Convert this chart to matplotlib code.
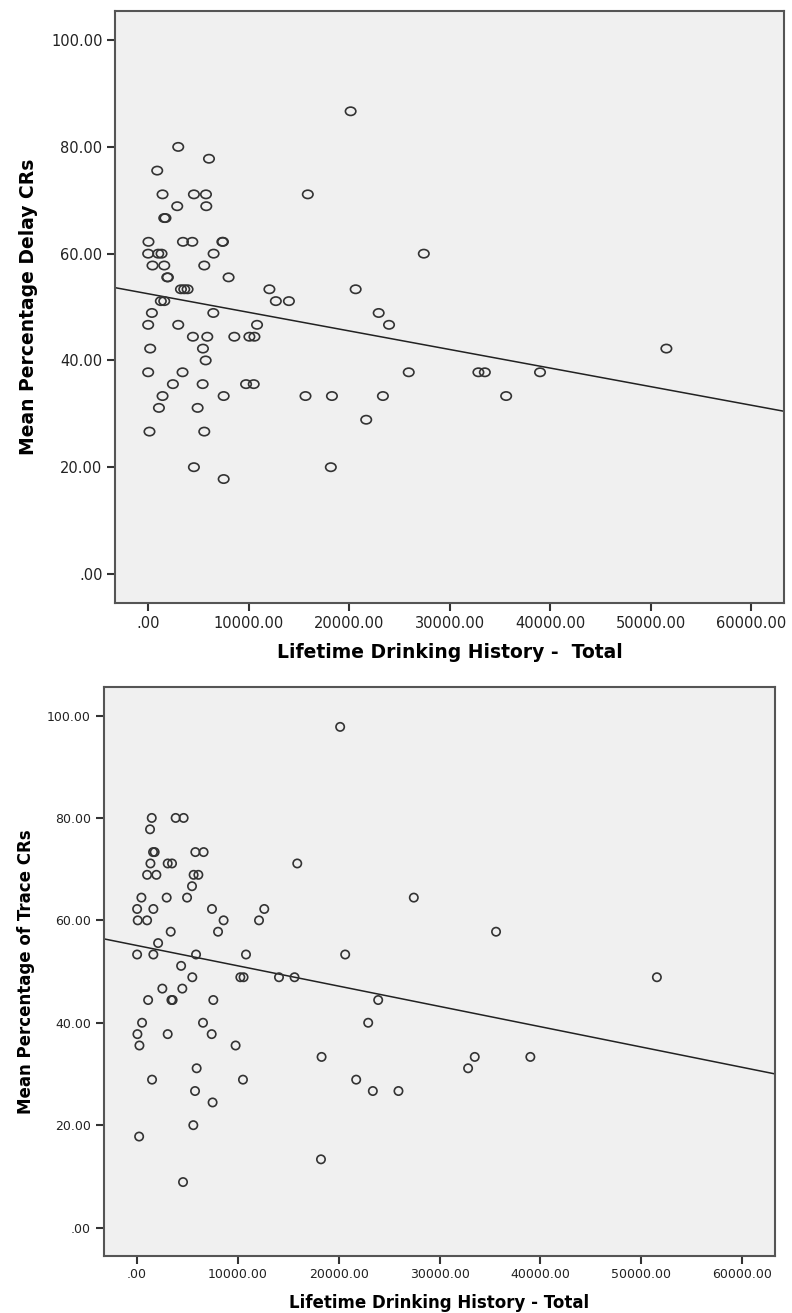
import matplotlib.pyplot as plt
import numpy as np
from matplotlib.markers import MarkerStyle
from matplotlib.transforms import Affine2D

# Delay conditioning: lifetime drinking total vs mean % CRs
delay_history = [2990, 6050, 900, 1430, 4550, 5750, 2890, 5780, 1600, 1720,
                 30, 3460, 4390, 7380, 7440, 0, 1000, 1330, 6510, 430,
                 1600, 5580, 1900, 1960, 8000, 3260, 3590, 3920, 12060, 1260,
                 1600, 12700, 14000, 370, 6480, 0, 2990, 10830, 4450, 5880,
                 8570, 10070, 10570, 200, 5450, 5720, 0, 3420, 2460, 5420,
                 9740, 10500, 1430, 7510, 1070, 4920, 130, 5580, 4550, 7510,
                 20140, 15880, 27420, 20640, 22930, 23960, 25920, 32850, 33490, 15650,
                 18280, 23350, 35610, 21690, 18170, 38980, 51550]
delay_pct = [80.00, 77.78, 75.56, 71.11, 71.11, 71.11, 68.89, 68.89, 66.67, 66.67,
             62.22, 62.22, 62.22, 62.22, 62.22, 60.00, 60.00, 60.00, 60.00, 57.78,
             57.78, 57.78, 55.56, 55.56, 55.56, 53.33, 53.33, 53.33, 53.33, 51.11,
             51.11, 51.11, 51.11, 48.89, 48.89, 46.67, 46.67, 46.67, 44.44, 44.44,
             44.44, 44.44, 44.44, 42.22, 42.22, 40.00, 37.78, 37.78, 35.56, 35.56,
             35.56, 35.56, 33.33, 33.33, 31.11, 31.11, 26.67, 26.67, 20.00, 17.78,
             86.67, 71.11, 60.00, 53.33, 48.89, 46.67, 37.78, 37.78, 37.78, 33.33,
             33.33, 33.33, 33.33, 28.89, 20.00, 37.78, 42.22]

# Trace conditioning
trace_history = [1480, 3850, 4640, 1310, 1610, 1770, 5800, 6620, 1350, 3060,
                 3490, 1020, 1940, 5630, 6100, 5470, 455, 2960, 4980, 30,
                 1640, 7450, 12630, 90, 1020, 8600, 12110, 3360, 8050, 2110,
                 30, 1640, 5870, 10820, 4390, 5500, 10260, 10580, 14090, 2530,
                 4510, 1120, 3430, 3550, 7580, 520, 6560, 60, 3060, 7420,
                 260, 9790, 5930, 1510, 10520, 5770, 7510, 5600, 230, 4580,
                 15900, 27450, 35600, 20650, 15630, 23920, 22930, 18310, 33490, 39000,
                 32830, 21740, 23390, 25930, 18250, 20150, 51540]
trace_pct = [80.00, 80.00, 80.00, 77.78, 73.33, 73.33, 73.33, 73.33, 71.11, 71.11,
             71.11, 68.89, 68.89, 68.89, 68.89, 66.67, 64.44, 64.44, 64.44, 62.22,
             62.22, 62.22, 62.22, 60.00, 60.00, 60.00, 60.00, 57.78, 57.78, 55.56,
             53.33, 53.33, 53.33, 53.33, 51.11, 48.89, 48.89, 48.89, 48.89, 46.67,
             46.67, 44.44, 44.44, 44.44, 44.44, 40.00, 40.00, 37.78, 37.78, 37.78,
             35.56, 35.56, 31.11, 28.89, 28.89, 26.67, 24.44, 20.00, 17.78, 8.89,
             71.11, 64.44, 57.78, 53.33, 48.89, 44.44, 40.00, 33.33, 33.33, 33.33,
             31.11, 28.89, 26.67, 26.67, 13.33, 97.78, 48.89]

x_ticks = [0, 10000, 20000, 30000, 40000, 50000, 60000]
y_ticks = [0, 20, 40, 60, 80, 100]


def spss_fmt(v):
    s = f"{v:.2f}"
    return s[1:] if s.startswith("0.") else s


def draw_panel(ax, xs, ys, ylabel, xlabel, tick_size, label_size, marker, ms):
    ax.set_facecolor('#f0f0f0')
    ax.scatter(xs, ys, marker=marker, s=ms, facecolors='none',
               edgecolors='#333333', linewidths=1.2, zorder=3)
    xlim = (-3300, 63250)
    slope, icept = np.polyfit(xs, ys, 1)
    fx = np.array(xlim)
    ax.plot(fx, icept + slope * fx, color='#222222', lw=1.1, zorder=2)
    ax.set_xlim(*xlim)
    ax.set_ylim(-5.5, 105.5)
    ax.set_xticks(x_ticks)
    ax.set_yticks(y_ticks)
    ax.set_xticklabels([spss_fmt(v) for v in x_ticks])
    ax.set_yticklabels([spss_fmt(v) for v in y_ticks])
    ax.tick_params(direction='out', length=6, width=1.5, color='#333333',
                   labelsize=tick_size, labelcolor='#222222', pad=3)
    for sp in ax.spines.values():
        sp.set_color('#555555')
        sp.set_linewidth(1.5)
    ax.set_ylabel(ylabel, fontsize=label_size, fontweight='bold', labelpad=9)
    ax.set_xlabel(xlabel, fontsize=label_size, fontweight='bold', labelpad=9)


fig = plt.figure(figsize=(7.92, 13.13), dpi=100)

wide_o = MarkerStyle('o', transform=Affine2D().scale(1.25, 1.0))

ax1 = fig.add_axes([0.1452, 0.5405, 0.8447, 0.4513])
draw_panel(ax1, delay_history, delay_pct, 'Mean Percentage Delay CRs',
           'Lifetime Drinking History -  Total', 10.5, 13.5, wide_o, 36)

ax2 = fig.add_axes([0.1307, 0.0436, 0.8479, 0.4329])
draw_panel(ax2, trace_history, trace_pct, 'Mean Percentage of Trace CRs',
           'Lifetime Drinking History - Total', 9, 12, 'o', 36)

fig.savefig('out.png', dpi=100)
